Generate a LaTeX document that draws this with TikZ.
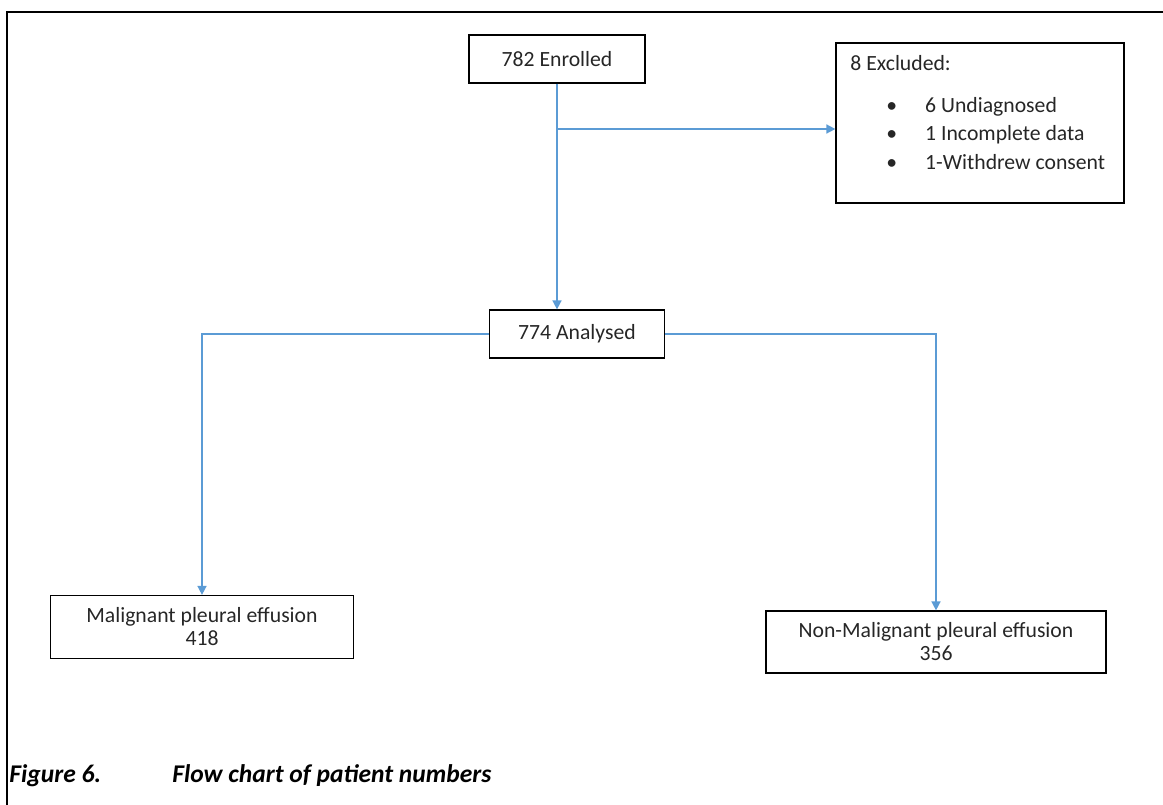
\documentclass[tikz,border=0pt]{standalone}
\usepackage{fontspec}
\setmainfont{Carlito}
\usetikzlibrary{arrows.meta,positioning}
\definecolor{linkblue}{HTML}{5B9BD5}

\begin{document}
\begin{tikzpicture}[x=1pt,y=-1pt,->,>={Triangle[length=9pt,width=9pt]},thick]
  \tikzset{every node/.style={font=\fontsize{21.7}{23}\selectfont,text=black!85}}
  \tikzset{box/.style={draw=black,line width=1.2pt,align=center,inner sep=0pt}}
  \tikzset{link/.style={draw=linkblue,line width=1.5pt}}
  \tikzset{caption/.style={anchor=west,inner sep=0pt,text=black,font=\fontsize{25.5}{28}\selectfont\bfseries\itshape}}

  \useasboundingbox (0,0) rectangle (1163,805);
  \draw[-,line width=2.8pt,line join=miter] (7,805) -- (7,12) -- (1163,12);

  \node[box,minimum width=176pt,minimum height=48pt] (enrolled) at (557,59) {782 Enrolled};
  \node[box,minimum width=288pt,minimum height=160pt] (excluded) at (980,123) {};
  \node[anchor=west,inner sep=0pt] (exhead) at (850,63) {8 Excluded:};
  \foreach \txt [count=\i] in {6 Undiagnosed, 1 Incomplete data, 1-Withdrew consent}
    \node[anchor=west,inner sep=0pt] (ex\i) at (886,{107+27.5*(\i-1)}) {\textbullet\hspace{28pt}\txt};

  \node[box,minimum width=175pt,minimum height=48pt] (analysed) at (577,334) {774 Analysed};
  \node[box,minimum width=303pt,minimum height=63pt] (malignant) at (202,627) {Malignant pleural effusion\\418};
  \node[box,minimum width=340pt,minimum height=62pt] (nonmal) at (936,642) {Non-Malignant pleural effusion\\356};

  \coordinate (split) at (557,129);
  \draw[link] (enrolled.south) -- (enrolled.south |- analysed.north);
  \draw[link] (split) -- (split -| excluded.west);
  \draw[link] (analysed.west) -| (malignant.north);
  \draw[link] (analysed.east) -| (nonmal.north);

  \node[caption] (figno) at (9,776) {Figure 6.};
  \node[caption] (figtitle) at (172,776) {Flow chart of patient numbers};
\end{tikzpicture}
\end{document}
